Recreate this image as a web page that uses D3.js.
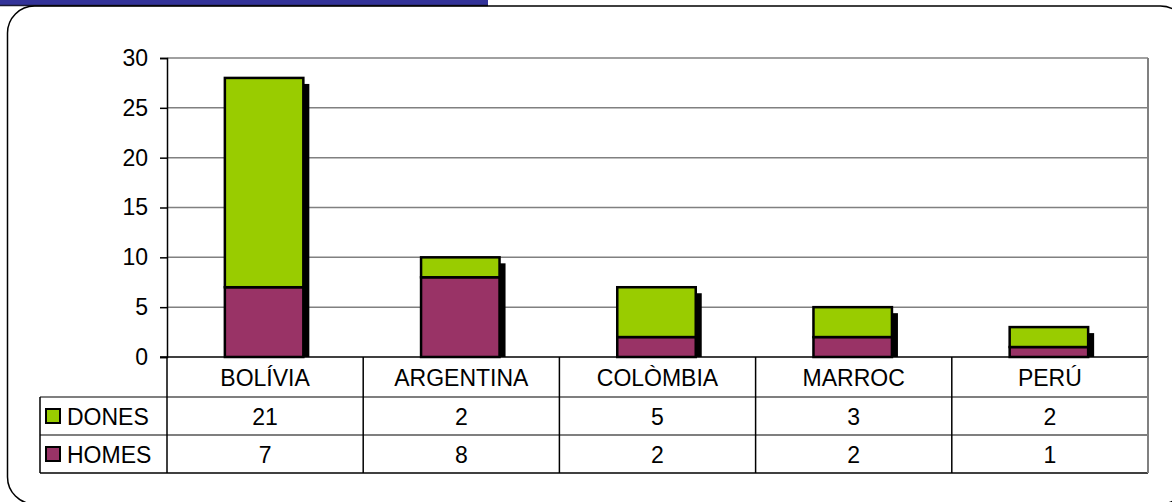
<!DOCTYPE html>
<html><head><meta charset="utf-8">
<script src="https://cdn.jsdelivr.net/npm/d3@7"></script>
<style>html,body{margin:0;padding:0;background:#fff;}svg{display:block;font-family:"Liberation Sans",Arial,sans-serif;}</style>
</head><body>
<svg id="c" width="1172" height="502"></svg>
<script>
const categories = ["BOLÍVIA","ARGENTINA","COLÒMBIA","MARROC","PERÚ"];
const seriesNames = ["HOMES","DONES"];
const homes = [7,8,2,2,1];
const dones = [21,2,5,3,2];
const colors = {HOMES:"#993366", DONES:"#99CC00"};
const yTicks = [0,5,10,15,20,25,30];

const svg = d3.select("#c");
const L = 167, R = 1148, T = 58, B = 357;
const tableLeft = 40, rowH = 38, headerBottom = 397;
const FS = 23;

// top banner
svg.append("rect").attr("x",0).attr("y",0).attr("width",488).attr("height",5).attr("fill","#333399");
svg.append("line").attr("x1",0).attr("x2",488).attr("y1",5.5).attr("y2",5.5).attr("stroke","#1a1a33").attr("stroke-width",1.5);

// rounded frame
svg.append("rect").attr("x",7.5).attr("y",6).attr("width",1180).attr("height",498).attr("rx",27).attr("ry",27)
  .attr("fill","none").attr("stroke","#000").attr("stroke-width",1.5);

const x = d3.scaleBand().domain(categories).range([L,R]).padding(0);
const y = d3.scaleLinear().domain([0,30]).range([B,T]);

// gridlines
svg.append("g").selectAll("line").data(yTicks.filter(d=>d>0)).join("line")
  .attr("x1",L).attr("x2",R).attr("y1",d=>y(d)).attr("y2",d=>y(d))
  .attr("stroke","#808080").attr("stroke-width",1.5);
svg.append("line").attr("x1",R).attr("x2",R).attr("y1",T).attr("y2",B).attr("stroke","#808080").attr("stroke-width",2);

// y axis
const yAxis = d3.axisLeft(y).tickValues(yTicks).tickSize(7).tickPadding(12);
const ga = svg.append("g").attr("transform",`translate(${L},0)`).call(yAxis);
ga.select(".domain").attr("stroke","#000").attr("stroke-width",1.5);
ga.selectAll(".tick line").attr("stroke","#000").attr("stroke-width",1.5);
ga.selectAll(".tick text").attr("font-size",FS).attr("fill","#000").attr("font-family","Liberation Sans, Arial, sans-serif");

// stacked bars
const data = categories.map((c,i)=>({cat:c, HOMES:homes[i], DONES:dones[i]}));
const stack = d3.stack().keys(seriesNames)(data);
const barW = x.bandwidth()*0.4;
const bx = c => x(c) + (x.bandwidth()-barW)/2 - 1;
const sh = 6;
// shadows
svg.append("g").selectAll("rect").data(data).join("rect")
  .attr("x",d=>bx(d.cat)+sh).attr("width",barW)
  .attr("y",d=>y(d.HOMES+d.DONES)+sh).attr("height",d=>B - y(d.HOMES+d.DONES)-sh)
  .attr("fill","#000");
svg.append("g").selectAll("g").data(stack).join("g").attr("fill",s=>colors[s.key])
  .selectAll("rect").data(s=>s).join("rect")
  .attr("x",d=>bx(d.data.cat)).attr("width",barW)
  .attr("y",d=>y(d[1])).attr("height",d=>y(d[0])-y(d[1]))
  .attr("stroke","#000").attr("stroke-width",2.5);

// axis baseline
svg.append("line").attr("x1",L-7).attr("x2",R).attr("y1",B).attr("y2",B).attr("stroke","#000").attr("stroke-width",1.5);

// data table
const rows = ["DONES","HOMES"];
const rowVals = {DONES:dones, HOMES:homes};
const tbl = svg.append("g");
tbl.append("line").attr("x1",tableLeft).attr("x2",R).attr("y1",headerBottom).attr("y2",headerBottom).attr("stroke","#555").attr("stroke-width",1.5);
tbl.append("line").attr("x1",tableLeft).attr("x2",R).attr("y1",headerBottom+rowH).attr("y2",headerBottom+rowH).attr("stroke","#555").attr("stroke-width",1.5);
tbl.append("line").attr("x1",tableLeft).attr("x2",R).attr("y1",headerBottom+2*rowH).attr("y2",headerBottom+2*rowH).attr("stroke","#000").attr("stroke-width",1.5);
tbl.append("line").attr("x1",tableLeft).attr("x2",tableLeft).attr("y1",headerBottom).attr("y2",headerBottom+2*rowH).attr("stroke","#000").attr("stroke-width",1.5);
tbl.selectAll("line.v").data(categories).join("line").attr("class","v")
  .attr("x1",d=>x(d)).attr("x2",d=>x(d)).attr("y1",B).attr("y2",headerBottom+2*rowH)
  .attr("stroke","#000").attr("stroke-width",1.5);
tbl.append("line").attr("x1",R).attr("x2",R).attr("y1",B).attr("y2",headerBottom+2*rowH).attr("stroke","#808080").attr("stroke-width",2);
tbl.selectAll("text.h").data(categories).join("text").attr("class","h")
  .attr("x",d=>x(d)+x.bandwidth()/2).attr("y",(B+headerBottom)/2+1).attr("dy","0.35em")
  .attr("text-anchor","middle").attr("font-size",FS).text(d=>d);
rows.forEach((r,ri)=>{
  const cy = headerBottom + rowH*ri + rowH/2;
  tbl.append("rect").attr("x",46).attr("y",cy-7).attr("width",14).attr("height",14)
    .attr("fill",colors[r]).attr("stroke","#000").attr("stroke-width",2);
  tbl.append("text").attr("x",67).attr("y",cy+1).attr("dy","0.35em").attr("font-size",FS).text(r);
  tbl.selectAll("text.v"+ri).data(categories).join("text").attr("class","v"+ri)
    .attr("x",d=>x(d)+x.bandwidth()/2).attr("y",cy+1).attr("dy","0.35em")
    .attr("text-anchor","middle").attr("font-size",FS).text((d,i)=>rowVals[r][i]);
});
</script>
</body></html>
